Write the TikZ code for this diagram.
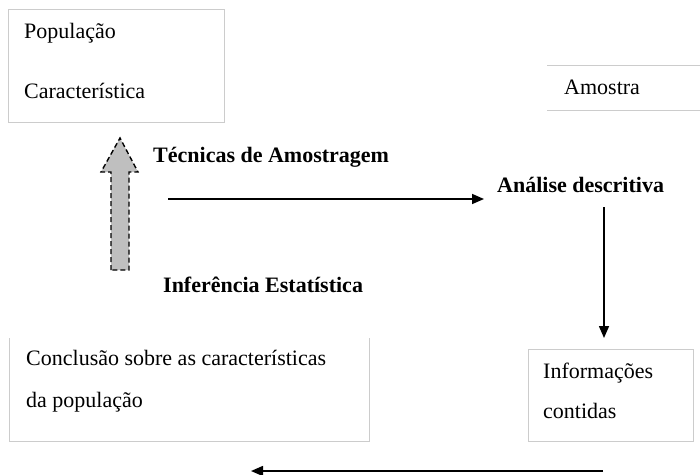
\documentclass[tikz,border=0pt]{standalone}
\usepackage{fontspec}
\setmainfont{Liberation Serif}
\usetikzlibrary{arrows.meta}
\begin{document}
\begin{tikzpicture}[x=1pt,y=-1pt,
  boxline/.style={draw=black!20,line width=1pt},
  txt/.style={anchor=base west,inner sep=0pt,font=\fontsize{22}{26}\selectfont},
  btxt/.style={txt,font=\fontsize{22}{26}\selectfont\bfseries},
  flow/.style={line width=1.6pt,-{Triangle[length=12pt,width=10pt]}},
  area/.style={inner sep=0pt,anchor=north west}]
\useasboundingbox[fill=white] (0,0) rectangle (700,474);
% boxes
\node[area,boxline,minimum width=216pt,minimum height=113pt] (pop) at (8,9) {};
\node[area,minimum width=153pt,minimum height=45pt] (amo) at (547,65.5) {};
\draw[boxline] (amo.north west) -- (amo.north east);
\draw[boxline] (amo.south west) -- (amo.south east);
\node[area,minimum width=360pt,minimum height=103pt] (conc) at (9,338) {};
\draw[boxline] (conc.north west) -- (conc.south west) -- (conc.south east) -- (conc.north east);
\node[area,boxline,minimum width=165pt,minimum height=92pt] (info) at (528,349) {};
% texts
\node[txt] (t1) at (24,38) {População};
\node[txt] (t2) at (24,98) {Característica};
\node[txt] (t3) at (564,94) {Amostra};
\node[txt] (t4) at (26,365) {Conclusão sobre as características};
\node[txt] (t5) at (26,407) {da população};
\node[txt] (t6) at (543,378) {Informações};
\node[txt] (t7) at (543,418) {contidas};
\node[btxt] (l1) at (153,162) {Técnicas de Amostragem};
\node[btxt] (l2) at (497,192) {Análise descritiva};
\node[btxt] (l3) at (163,292) {Inferência Estatística};
% connectors
\coordinate (a1) at (168,199);
\coordinate (a2) at (484,199);
\coordinate (b1) at (604,207);
\coordinate (b2) at (604,338);
\coordinate (c1) at (603,471);
\coordinate (c2) at (251,471);
\draw[flow] (a1) -- (a2);
\draw[flow] (b1) -- (b2);
\draw[flow] (c1) -- (c2);
% gray block arrow
\draw[fill=black!25,line width=1.4pt,dash pattern=on 5pt off 3pt]
  (111,270) -- (111,172) -- (101,172) -- (120,138) -- (138,172) -- (129,172) -- (129,270) -- cycle;
\end{tikzpicture}
\end{document}
